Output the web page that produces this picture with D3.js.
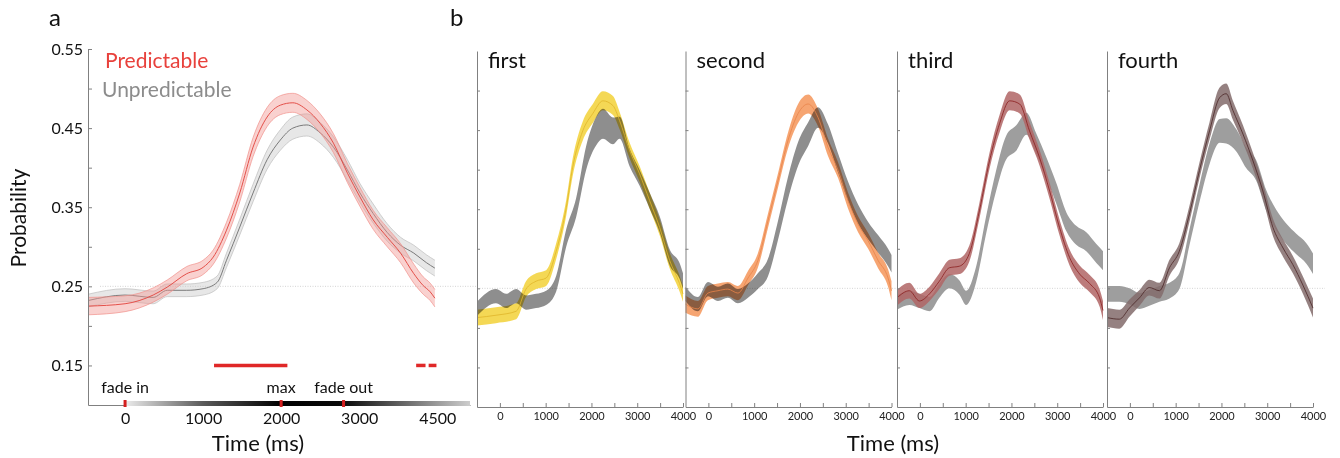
<!DOCTYPE html>
<html>
<head>
<meta charset="utf-8">
<script src="https://cdn.jsdelivr.net/npm/d3@7"></script>
<style>
  body { margin: 0; background: #fff; }
  text { font-family: Lato, "Noto Sans", sans-serif; }
</style>
</head>
<body>
<div id="graph"></div>
<script>
// values: [time (ms), probability, half width of band]
var predictable = [
  [-475, 0.225, 0.011], [0, 0.228, 0.010], [360, 0.239, 0.009], [540, 0.249, 0.009],
  [790, 0.266, 0.009], [1000, 0.274, 0.009], [1130, 0.287, 0.009], [1300, 0.321, 0.010],
  [1470, 0.368, 0.011], [1640, 0.426, 0.012], [1820, 0.464, 0.012], [1990, 0.479, 0.012],
  [2150, 0.482, 0.012], [2330, 0.473, 0.012], [2500, 0.456, 0.012], [2670, 0.431, 0.012],
  [2850, 0.393, 0.012], [3010, 0.363, 0.012], [3180, 0.334, 0.012], [3360, 0.312, 0.012],
  [3530, 0.292, 0.012], [3700, 0.266, 0.012], [3820, 0.251, 0.011], [3910, 0.243, 0.011],
  [3970, 0.235, 0.011]
];
var unpredictable = [
  [-475, 0.232, 0.008], [0, 0.239, 0.008], [360, 0.236, 0.008], [540, 0.245, 0.008],
  [790, 0.245, 0.008], [1000, 0.247, 0.008], [1180, 0.255, 0.008], [1300, 0.283, 0.009],
  [1470, 0.325, 0.010], [1640, 0.368, 0.011], [1820, 0.410, 0.012], [1990, 0.435, 0.013],
  [2150, 0.450, 0.014], [2330, 0.454, 0.014], [2500, 0.444, 0.013], [2670, 0.426, 0.013],
  [2850, 0.397, 0.013], [3010, 0.368, 0.012], [3180, 0.342, 0.012], [3360, 0.318, 0.011],
  [3530, 0.302, 0.010], [3700, 0.292, 0.010], [3860, 0.280, 0.010], [3970, 0.273, 0.010]
];

// significant clusters (ms)
var sigSpans = [[1140, 2080], [3730, 3850], [3890, 3990]];

// events on the stimulus bar
var events = [
  { t: 0, label: 'fade in' },
  { t: 2000, label: 'max' },
  { t: 2800, label: 'fade out' }
];

var yTicksA = [0.15, 0.25, 0.35, 0.45, 0.55];
var xTicksA = [0, 1000, 2000, 3000, 4000];
var xLabelsA = ['0', '1000', '2000', '3000', '4500'];

var panelNames = ['first', 'second', 'third', 'fourth'];
var panelColors = ['#f3d64c', '#f6a06a', '#b06565', '#836b6b'];
var panelLineColors = ['#dfb52a', '#e8844a', '#8a1f1f', '#4a2626'];

var condFirst = [
  [-500, 0.213, 0.010], [-85, 0.216, 0.010], [355, 0.221, 0.010], [570, 0.249, 0.010],
  [790, 0.259, 0.010], [1010, 0.263, 0.010], [1230, 0.297, 0.010], [1450, 0.352, 0.010],
  [1590, 0.403, 0.011], [1810, 0.449, 0.012], [2030, 0.471, 0.012], [2250, 0.487, 0.012],
  [2470, 0.481, 0.012], [2615, 0.462, 0.011], [2835, 0.424, 0.010], [3050, 0.395, 0.010],
  [3270, 0.361, 0.010], [3490, 0.327, 0.010], [3710, 0.285, 0.010], [3925, 0.256, 0.010],
  [4000, 0.243, 0.010]
];
var grayFirst = [
  [-500, 0.224, 0.009], [-85, 0.240, 0.009], [135, 0.234, 0.009], [355, 0.240, 0.009],
  [570, 0.232, 0.009], [790, 0.234, 0.009], [1010, 0.238, 0.009], [1230, 0.256, 0.010],
  [1450, 0.314, 0.011], [1665, 0.352, 0.012], [1885, 0.415, 0.015], [2105, 0.449, 0.018],
  [2250, 0.458, 0.019], [2470, 0.449, 0.017], [2615, 0.453, 0.014], [2835, 0.415, 0.011],
  [3050, 0.390, 0.010], [3270, 0.361, 0.010], [3490, 0.331, 0.010], [3710, 0.289, 0.010],
  [3925, 0.272, 0.010], [4000, 0.259, 0.010]
];
var condSecond = [
  [-500, 0.230, 0.011], [-230, 0.224, 0.010], [-10, 0.244, 0.009], [210, 0.247, 0.009],
  [425, 0.249, 0.009], [645, 0.244, 0.009], [865, 0.263, 0.009], [1080, 0.285, 0.009],
  [1300, 0.335, 0.009], [1520, 0.386, 0.009], [1740, 0.437, 0.010], [1960, 0.471, 0.012],
  [2180, 0.483, 0.012], [2395, 0.466, 0.011], [2615, 0.428, 0.011], [2835, 0.399, 0.010],
  [3050, 0.361, 0.010], [3270, 0.331, 0.010], [3490, 0.310, 0.010], [3710, 0.285, 0.010],
  [3925, 0.263, 0.011], [4000, 0.247, 0.012]
];
var graySecond = [
  [-500, 0.243, 0.009], [-230, 0.230, 0.009], [-10, 0.249, 0.009], [210, 0.243, 0.009],
  [425, 0.247, 0.009], [645, 0.240, 0.009], [865, 0.247, 0.009], [1080, 0.259, 0.010],
  [1300, 0.276, 0.011], [1520, 0.323, 0.012], [1740, 0.377, 0.014], [1960, 0.420, 0.015],
  [2180, 0.445, 0.015], [2395, 0.466, 0.013], [2615, 0.445, 0.012], [2835, 0.408, 0.012],
  [3050, 0.373, 0.012], [3270, 0.344, 0.012], [3490, 0.323, 0.011], [3710, 0.306, 0.011],
  [3925, 0.289, 0.011], [4000, 0.281, 0.011]
];
var condThird = [
  [-500, 0.238, 0.010], [-230, 0.247, 0.010], [-10, 0.234, 0.009], [210, 0.243, 0.009],
  [425, 0.259, 0.010], [645, 0.276, 0.010], [865, 0.278, 0.010], [1080, 0.294, 0.010],
  [1300, 0.348, 0.010], [1520, 0.411, 0.010], [1740, 0.458, 0.011], [1960, 0.487, 0.012],
  [2180, 0.483, 0.012], [2395, 0.449, 0.011], [2615, 0.415, 0.010], [2835, 0.373, 0.010],
  [3050, 0.327, 0.010], [3270, 0.289, 0.010], [3490, 0.268, 0.011], [3710, 0.256, 0.011],
  [3925, 0.238, 0.011], [4000, 0.222, 0.012]
];
var grayThird = [
  [-500, 0.232, 0.009], [-230, 0.238, 0.009], [-10, 0.234, 0.009], [210, 0.230, 0.009],
  [425, 0.247, 0.009], [645, 0.259, 0.009], [865, 0.251, 0.009], [1010, 0.238, 0.009],
  [1230, 0.268, 0.010], [1450, 0.331, 0.011], [1665, 0.386, 0.013], [1885, 0.428, 0.015],
  [2105, 0.440, 0.016], [2325, 0.458, 0.014], [2540, 0.433, 0.013], [2760, 0.403, 0.013],
  [2980, 0.370, 0.013], [3200, 0.334, 0.012], [3415, 0.317, 0.012], [3635, 0.309, 0.012],
  [3855, 0.294, 0.012], [4000, 0.285, 0.012]
];
var condFourth = [
  [-500, 0.213, 0.012], [-230, 0.211, 0.012], [-10, 0.225, 0.011], [210, 0.238, 0.010],
  [425, 0.251, 0.010], [645, 0.247, 0.010], [865, 0.276, 0.010], [1080, 0.297, 0.010],
  [1300, 0.344, 0.010], [1520, 0.399, 0.010], [1740, 0.449, 0.011], [1960, 0.491, 0.013],
  [2105, 0.496, 0.013], [2250, 0.475, 0.012], [2470, 0.445, 0.011], [2690, 0.411, 0.010],
  [2905, 0.373, 0.010], [3125, 0.327, 0.011], [3345, 0.301, 0.011], [3560, 0.280, 0.011],
  [3780, 0.254, 0.011], [4000, 0.225, 0.012]
];
var grayFourth = [
  [-500, 0.243, 0.010], [-230, 0.243, 0.010], [-10, 0.240, 0.010], [210, 0.234, 0.010],
  [425, 0.238, 0.010], [645, 0.243, 0.010], [865, 0.247, 0.010], [1080, 0.259, 0.010],
  [1300, 0.314, 0.010], [1520, 0.370, 0.011], [1740, 0.420, 0.013], [1960, 0.449, 0.015],
  [2105, 0.449, 0.016], [2325, 0.437, 0.014], [2540, 0.415, 0.013], [2760, 0.399, 0.013],
  [2980, 0.361, 0.013], [3200, 0.336, 0.013], [3415, 0.319, 0.013], [3635, 0.306, 0.013],
  [3855, 0.294, 0.013], [4000, 0.281, 0.013]
];

var condSeries = [condFirst, condSecond, condThird, condFourth];
var graySeries = [grayFirst, graySecond, grayThird, grayFourth];

var xTicksB = [0, 500, 1000, 1500, 2000, 2500, 3000, 3500, 4000];
var yTicksB = [0.15, 0.2, 0.25, 0.3, 0.35, 0.4, 0.45, 0.5];

window.onload = start;

function start() {
    var width = 1340;
    var height = 458;

    var svg = d3.select('#graph')
        .append('svg')
        .attr('width', width)
        .attr('height', height);

    var axisColor = '#808080';

    // ---------- panel a ----------
    var xA = d3.scaleLinear().domain([-475, 4420]).range([88, 470]);
    var yA = d3.scaleLinear().domain([0.1, 0.55]).range([405, 49]);

    var a = svg.append('g');

    // chance level
    a.append('line')
        .attr('x1', 100).attr('x2', 476)
        .attr('y1', yA(0.25)).attr('y2', yA(0.25))
        .attr('stroke', '#c8c8c8')
        .attr('stroke-width', 0.8)
        .attr('stroke-dasharray', '1,1.5');

    var bandA = function(s) {
        return d3.area()
            .curve(d3.curveMonotoneX)
            .x(function(d) { return xA(d[0]); })
            .y0(function(d) { return yA(d[1] - d[2]); })
            .y1(function(d) { return yA(d[1] + d[2]); })(s);
    };
    var edgeA = function(s, sign) {
        return d3.line()
            .curve(d3.curveMonotoneX)
            .x(function(d) { return xA(d[0]); })
            .y(function(d) { return yA(d[1] + sign * d[2]); })(s);
    };
    var meanA = d3.line()
        .curve(d3.curveMonotoneX)
        .x(function(d) { return xA(d[0]); })
        .y(function(d) { return yA(d[1]); });

    var groupsA = [
        { data: unpredictable, fill: '#c9c9c9', edge: '#bdbdbd', line: '#7a7a7a' },
        { data: predictable, fill: '#f19a94', edge: '#f0918b', line: '#e4504a' }
    ];
    groupsA.forEach(function(g) {
        a.append('path').attr('d', bandA(g.data))
            .attr('fill', g.fill).attr('fill-opacity', 0.45);
        [-1, 1].forEach(function(sign) {
            a.append('path').attr('d', edgeA(g.data, sign))
                .attr('fill', 'none').attr('stroke', g.edge).attr('stroke-width', 0.7);
        });
        a.append('path').attr('d', meanA(g.data))
            .attr('fill', 'none').attr('stroke', g.line).attr('stroke-width', 1);
    });

    // significance bars
    a.selectAll('.sig')
        .data(sigSpans)
        .enter()
        .append('line')
        .attr('x1', function(d) { return xA(d[0]); })
        .attr('x2', function(d) { return xA(d[1]); })
        .attr('y1', yA(0.15)).attr('y2', yA(0.15))
        .attr('stroke', '#e02828')
        .attr('stroke-width', 3.5);

    // y axis
    var yAxisA = d3.axisLeft(yA)
        .tickValues(d3.range(0.15, 0.551, 0.05))
        .tickSizeInner(-4)
        .tickSizeOuter(0)
        .tickPadding(5)
        .tickFormat(function(d) {
            var v = Math.round(d * 100) / 100;
            return yTicksA.indexOf(v) >= 0 ? d3.format('.2f')(v) : '';
        });
    var ya = a.append('g')
        .attr('transform', 'translate(88,0)')
        .call(yAxisA);
    ya.select('.domain').attr('stroke', axisColor);
    ya.selectAll('.tick line').attr('stroke', axisColor);
    ya.selectAll('text').attr('font-size', 16).attr('fill', '#111')
        .attr('font-family', 'Lato, sans-serif');

    // x axis
    var xAxisA = d3.axisBottom(xA)
        .tickValues(xTicksA)
        .tickSize(0)
        .tickPadding(8)
        .tickFormat(function(d, i) { return xLabelsA[i]; });
    var xa = a.append('g')
        .attr('transform', 'translate(0,405)')
        .call(xAxisA);
    xa.select('.domain').attr('stroke', axisColor);
    xa.selectAll('text').attr('font-size', 16).attr('fill', '#111')
        .attr('font-family', 'Lato, sans-serif');

    // stimulus intensity bar
    var grad = svg.append('defs').append('linearGradient')
        .attr('id', 'stim')
        .attr('gradientUnits', 'userSpaceOnUse')
        .attr('x1', xA(0)).attr('x2', xA(4420))
        .attr('y1', 0).attr('y2', 0);
    var stops = [[0, '#ececec'], [1000, '#5a5a5a'], [2000, '#000'], [2800, '#0a0a0a'], [4420, '#cdcdcd']];
    stops.forEach(function(s) {
        grad.append('stop')
            .attr('offset', (s[0] / 4420 * 100) + '%')
            .attr('stop-color', s[1]);
    });
    a.append('rect')
        .attr('x', xA(0)).attr('y', 401)
        .attr('width', xA(4420) - xA(0)).attr('height', 5)
        .attr('fill', 'url(#stim)');

    a.selectAll('.ev')
        .data(events)
        .enter()
        .append('rect')
        .attr('x', function(d) { return xA(d.t) - 1.5; })
        .attr('y', 400)
        .attr('width', 3).attr('height', 7)
        .attr('fill', '#d42020');

    a.selectAll('.evlabel')
        .data(events)
        .enter()
        .append('text')
        .attr('x', function(d) { return xA(d.t); })
        .attr('y', 393)
        .attr('text-anchor', 'middle')
        .attr('font-size', 16)
        .attr('fill', '#111')
        .text(function(d) { return d.label; });

    // legend
    a.append('text').attr('x', 105).attr('y', 68)
        .attr('font-size', 21).attr('fill', '#e8413c').text('Predictable');
    a.append('text').attr('x', 102).attr('y', 97)
        .attr('font-size', 21).attr('fill', '#8c8c8c').text('Unpredictable');

    a.append('text')
        .attr('transform', 'translate(26,218) rotate(-90)')
        .attr('text-anchor', 'middle')
        .attr('font-size', 21).attr('fill', '#111')
        .text('Probability');

    a.append('text').attr('x', 258).attr('y', 451)
        .attr('text-anchor', 'middle')
        .attr('font-size', 22).attr('fill', '#111')
        .text('Time (ms)');

    svg.append('text').attr('x', 49).attr('y', 26)
        .attr('font-size', 24).attr('fill', '#111').text('a');
    svg.append('text').attr('x', 450).attr('y', 26)
        .attr('font-size', 24).attr('fill', '#111').text('b');

    // ---------- panel b ----------
    var lefts = [477, 685.5, 897, 1107];
    var yB = d3.scaleLinear().domain([0.1, 0.55]).range([407, 51]);

    var b = svg.append('g');

    b.append('line')
        .attr('x1', 477).attr('x2', 1325)
        .attr('y1', yB(0.25)).attr('y2', yB(0.25))
        .attr('stroke', '#c8c8c8')
        .attr('stroke-width', 0.8)
        .attr('stroke-dasharray', '1,1.5');

    panelNames.forEach(function(name, i) {
        var xB = d3.scaleLinear().domain([-500, 4000]).range([lefts[i], lefts[i] + 206]);
        var g = b.append('g');

        var band = d3.area()
            .curve(d3.curveMonotoneX)
            .x(function(d) { return xB(d[0]); })
            .y0(function(d) { return yB(d[1] - d[2]); })
            .y1(function(d) { return yB(d[1] + d[2]); });
        var mean = d3.line()
            .curve(d3.curveMonotoneX)
            .x(function(d) { return xB(d[0]); })
            .y(function(d) { return yB(d[1]); });

        if (i < 2) {
            // light colours: the grey band darkens them where they overlap
            g.append('path').attr('d', band(condSeries[i]))
                .attr('fill', panelColors[i]).attr('fill-opacity', 0.95);
            g.append('path').attr('d', band(graySeries[i]))
                .attr('fill', '#8e8e8e')
                .style('mix-blend-mode', 'multiply');
        } else {
            // dark colours sit over the grey band
            g.append('path').attr('d', band(graySeries[i]))
                .attr('fill', '#9e9e9e');
            g.append('path').attr('d', band(condSeries[i]))
                .attr('fill', panelColors[i]).attr('fill-opacity', 0.85);
        }
        g.append('path').attr('d', mean(condSeries[i]))
            .attr('fill', 'none').attr('stroke', panelLineColors[i])
            .attr('stroke-width', 0.8);

        // axes
        var yAxisB = d3.axisRight(yB)
            .tickValues(yTicksB)
            .tickSizeInner(3)
            .tickSizeOuter(0)
            .tickFormat('');
        var yb = g.append('g')
            .attr('transform', 'translate(' + lefts[i] + ',0)')
            .call(yAxisB);
        yb.select('.domain').attr('stroke', axisColor);
        yb.selectAll('.tick line').attr('stroke', axisColor);

        var xAxisB = d3.axisBottom(xB)
            .tickValues(xTicksB)
            .tickSizeInner(-4)
            .tickSizeOuter(0)
            .tickPadding(5)
            .tickFormat(function(d) { return d % 1000 === 0 ? d : ''; });
        var xb = g.append('g')
            .attr('transform', 'translate(0,407)')
            .call(xAxisB);
        xb.select('.domain').attr('stroke', axisColor);
        xb.selectAll('.tick line').attr('stroke', axisColor);
        xb.selectAll('text').attr('font-size', 11).attr('fill', '#222')
            .attr('font-family', 'Lato, sans-serif');

        g.append('text')
            .attr('x', lefts[i] + 11).attr('y', 68)
            .attr('font-size', 22).attr('fill', '#111')
            .text(name);
    });

    b.append('text').attr('x', 893).attr('y', 451)
        .attr('text-anchor', 'middle')
        .attr('font-size', 22).attr('fill', '#111')
        .text('Time (ms)');
}
</script>
</body>
</html>
